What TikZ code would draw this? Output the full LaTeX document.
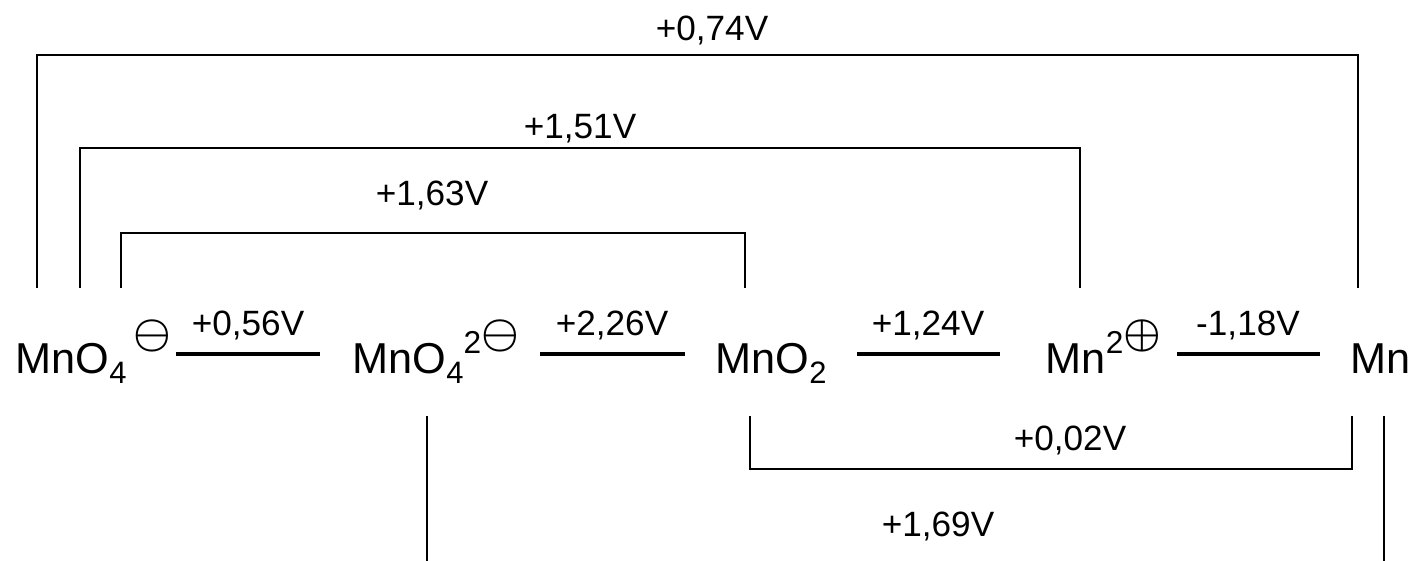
\documentclass[tikz,border=0pt]{standalone}
\usepackage{fontspec}
\setmainfont{Liberation Sans}
\newcommand{\chgminus}{\raisebox{7.7pt}{\fontsize{11.5}{12}\selectfont\boldmath$\ominus$}}
\newcommand{\chgplus}{\raisebox{7.7pt}{\fontsize{11.5}{12}\selectfont\boldmath$\oplus$}}
\newcommand{\supnum}[1]{\raisebox{5.8pt}{\fontsize{9}{9}\selectfont #1}}
\newcommand{\subnum}[1]{\raisebox{-2.6pt}{\fontsize{8.8}{8}\selectfont #1}}
\tikzset{
  species/.style={anchor=base west, inner sep=0pt, font=\fontsize{12.3}{14}\selectfont},
  pot/.style={anchor=base, inner sep=0pt, font=\fontsize{10}{12}\selectfont},
  rxn/.style={line width=1.1pt},
  link/.style={line width=0.75pt}
}
\begin{document}
\begin{tikzpicture}[x=0.01cm, y=-0.01cm]
\useasboundingbox (0,0) rectangle (1412,561);

% species
\node[species] (mno4) at (15,374) {MnO\subnum{4}\kern2pt\chgminus};
\node[species] (mno42) at (352,374) {MnO\subnum{4}\supnum{2}\chgminus};
\node[species] (mno2) at (715,374) {MnO\subnum{2}};
\node[species] (mn2) at (1045,374) {Mn\supnum{2}\chgplus};
\node[species] (mn) at (1350,374) {Mn};

% single steps
\draw[rxn] (176,354) -- (320,354);
\draw[rxn] (540,354) -- (685,354);
\draw[rxn] (857,354) -- (1000,354);
\draw[rxn] (1177,354) -- (1320,354);
\node[pot] (e1) at (248,336) {+0,56V};
\node[pot] (e2) at (612,336) {+2,26V};
\node[pot] (e3) at (928,336) {+1,24V};
\node[pot] (e4) at (1248,336) {-1,18V};

% brackets above
\draw[link] (37,288) |- (1358,55) -- (1358,288);
\draw[link] (80,288) |- (1080,148) -- (1080,288);
\draw[link] (121,288) |- (745,233) -- (745,288);
\node[pot] (e5) at (712,41) {+0,74V};
\node[pot] (e6) at (580,139) {+1,51V};
\node[pot] (e7) at (432,206) {+1,63V};

% brackets below
\draw[link] (750,416) |- (1352,469) -- (1352,416);
\draw[link] (427,416) -- (427,561);
\draw[link] (1384,416) -- (1384,561);
\node[pot] (e8) at (1070,451) {+0,02V};
\node[pot] (e9) at (938,536) {+1,69V};
\end{tikzpicture}
\end{document}
